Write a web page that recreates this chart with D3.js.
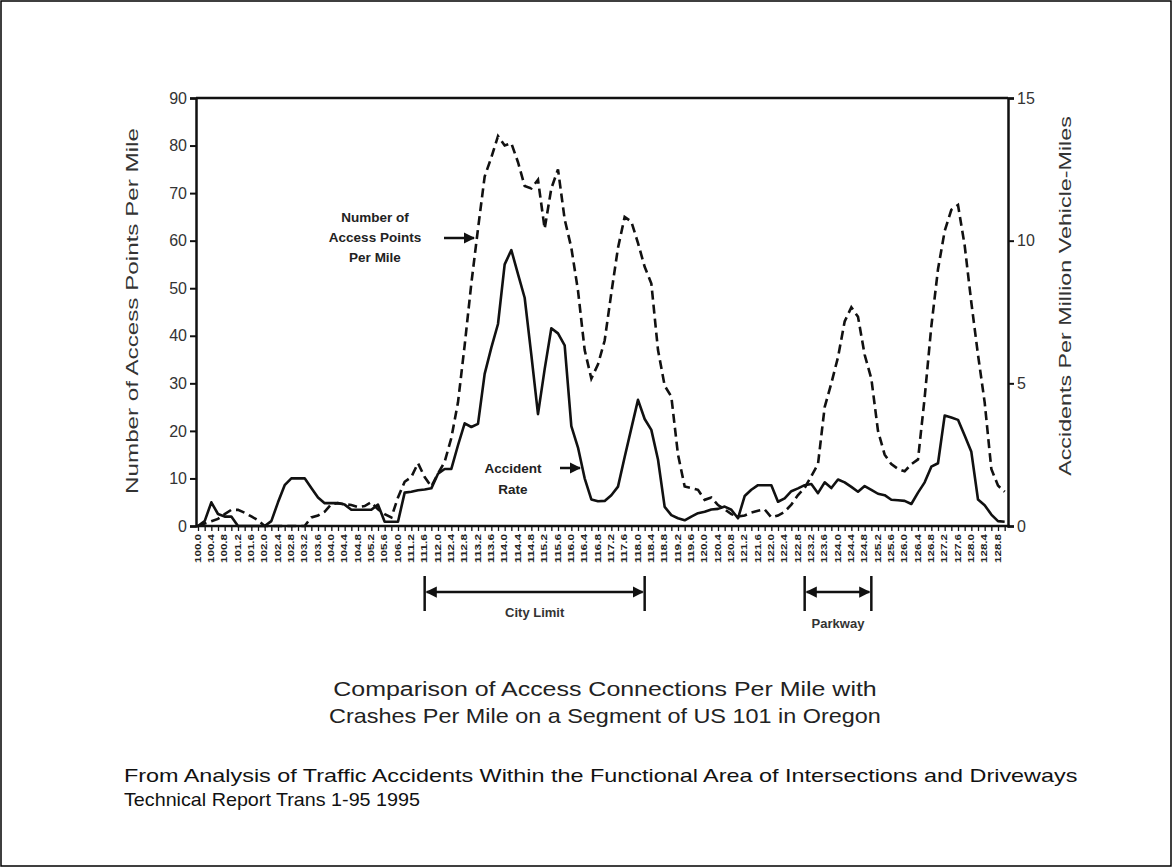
<!DOCTYPE html>
<html>
<head>
<meta charset="utf-8">
<script src="https://cdn.jsdelivr.net/npm/d3@7"></script>
<style>
  body { margin: 0; background: #fff; }
  svg { display: block; font-family: 'Liberation Sans', Arial, sans-serif; }
</style>
</head>
<body>
<div id="container"></div>
<script>
// mileposts along US 101, one every 0.2 mile (the axis skips 106.0 -> 111.2)
const mileposts = [
  '100.0','100.2','100.4','100.6','100.8','101.0','101.2','101.4','101.6','101.8',
  '102.0','102.2','102.4','102.6','102.8','103.0','103.2','103.4','103.6','103.8',
  '104.0','104.2','104.4','104.6','104.8','105.0','105.2','105.4','105.6','105.8',
  '106.0','111.0','111.2','111.4','111.6','111.8','112.0','112.2','112.4','112.6',
  '112.8','113.0','113.2','113.4','113.6','113.8','114.0','114.2','114.4','114.6',
  '114.8','115.0','115.2','115.4','115.6','115.8','116.0','116.2','116.4','116.6',
  '116.8','117.0','117.2','117.4','117.6','117.8','118.0','118.2','118.4','118.6',
  '118.8','119.0','119.2','119.4','119.6','119.8','120.0','120.2','120.4','120.6',
  '120.8','121.0','121.2','121.4','121.6','121.8','122.0','122.2','122.4','122.6',
  '122.8','123.0','123.2','123.4','123.6','123.8','124.0','124.2','124.4','124.6',
  '124.8','125.0','125.2','125.4','125.6','125.8','126.0','126.2','126.4','126.6',
  '126.8','127.0','127.2','127.4','127.6','127.8','128.0','128.2','128.4','128.6',
  '128.8','129.0'
];

// tick labels printed under the axis (every other milepost)
const tickLabels = [
  '100.0','100.4','100.8','101.2','101.6','102.0','102.4','102.8','103.2','103.6',
  '104.0','104.4','104.8','105.2','105.6','106.0','111.2','111.6','112.0','112.4',
  '112.8','113.2','113.6','114.0','114.4','114.8','115.2','115.6','116.0','116.4',
  '116.8','117.2','117.6','118.0','118.4','118.8','119.2','119.6','120.0','120.4',
  '120.8','121.2','121.6','122.0','122.4','122.8','123.2','123.6','124.0','124.4',
  '124.8','125.2','125.6','126.0','126.4','126.8','127.2','127.6','128.0','128.4',
  '128.8'
];

// number of access points per mile (left axis)
const accessPoints = [
  0, 0.5, 1, 1.5, 2.5, 3.4, 3.4, 2.8, 2, 1.2,
  0, 0, 0, 0, 0, 0, 0, 1.8, 2.2, 3,
  4.6, 4.8, 4.6, 4.4, 4, 4.2, 5, 3.5, 2.5, 1.8,
  6, 9.3, 10.3, 13.2, 10.3, 8.3, 11, 13.5, 18.5, 26,
  38, 51, 62.5, 73.5, 77.5, 82, 80, 80.5, 76.5, 71.5,
  71, 72.8, 62.5, 71, 75, 64.5, 58.5, 49.5, 37, 31,
  34, 39, 49, 58.5, 65, 64, 59.5, 54.5, 51, 37,
  29.5, 27.2, 15, 8.3, 8, 7.6, 5.5, 6, 4.4, 3.5,
  2.5, 2, 2.2, 2.8, 3.2, 3.5, 1.8, 2.2, 3, 4.5,
  6.5, 8, 10.5, 13, 25, 30, 35.5, 43, 46, 44,
  36, 31, 20, 15, 13, 12, 11.5, 13, 14, 27,
  42, 54, 62, 66.5, 67.5, 59, 47, 36, 26, 12,
  8.5, 7.2
];

// accidents per million vehicle-miles (right axis)
const accidentRate = [
  0, 0.17, 0.83, 0.42, 0.33, 0.33, 0, 0, 0, 0,
  0, 0.17, 0.83, 1.43, 1.67, 1.67, 1.67, 1.33, 1, 0.8,
  0.8, 0.8, 0.75, 0.57, 0.57, 0.57, 0.57, 0.75, 0.15, 0.15,
  0.15, 1.17, 1.2, 1.25, 1.28, 1.32, 1.83, 2, 2, 2.83,
  3.6, 3.47, 3.58, 5.33, 6.25, 7.08, 9.17, 9.67, 8.83, 8,
  6, 3.92, 5.5, 6.93, 6.75, 6.33, 3.5, 2.75, 1.67, 0.93,
  0.87, 0.88, 1.08, 1.38, 2.42, 3.42, 4.42, 3.75, 3.37, 2.33,
  0.67, 0.38, 0.27, 0.2, 0.33, 0.45, 0.5, 0.58, 0.6, 0.68,
  0.57, 0.27, 1.05, 1.27, 1.43, 1.43, 1.43, 0.85, 0.97, 1.22,
  1.32, 1.43, 1.47, 1.15, 1.53, 1.33, 1.63, 1.53, 1.37, 1.2,
  1.4, 1.27, 1.13, 1.08, 0.92, 0.9, 0.88, 0.77, 1.17, 1.53,
  2.08, 2.2, 3.87, 3.8, 3.72, 3.17, 2.6, 0.93, 0.73, 0.4,
  0.17, 0.15
];

const leftTicks = [0, 10, 20, 30, 40, 50, 60, 70, 80, 90];
const rightTicks = [0, 5, 10, 15];

const width = 1172, height = 867;
const plot = { left: 196, right: 1008, top: 98, bottom: 526 };

const svg = d3.select('#container').append('svg')
  .attr('width', width)
  .attr('height', height);

svg.append('rect')
  .attr('x', 1).attr('y', 1)
  .attr('width', width - 2).attr('height', height - 2)
  .attr('fill', '#fff')
  .attr('stroke', '#000')
  .attr('stroke-width', 1.5);

// squeeze or stretch a text horizontally so it spans `target` pixels
function fitText(t, px, py, target, rotate) {
  t.attr('x', 0).attr('y', 0);
  const w = t.node().getComputedTextLength();
  const s = target / w;
  t.attr('transform', `translate(${px},${py})` + (rotate ? ` rotate(${rotate})` : '') + ` scale(${s},1)`);
}

const x = d3.scaleLinear()
  .domain([-0.3, mileposts.length - 0.5])
  .range([plot.left, plot.right]);
const yLeft = d3.scaleLinear().domain([0, 90]).range([plot.bottom, plot.top]);
const yRight = d3.scaleLinear().domain([0, 15]).range([plot.bottom, plot.top]);

// lines
const accessLine = d3.line()
  .x((d, i) => x(i))
  .y((d) => yLeft(d));
const rateLine = d3.line()
  .x((d, i) => x(i))
  .y((d) => yRight(d));

svg.append('path')
  .datum(accessPoints)
  .attr('d', accessLine)
  .attr('fill', 'none')
  .attr('stroke', '#111')
  .attr('stroke-width', 2.6)
  .attr('stroke-dasharray', '9,5');

svg.append('path')
  .datum(accidentRate)
  .attr('d', rateLine)
  .attr('fill', 'none')
  .attr('stroke', '#111')
  .attr('stroke-width', 2.6)
  .attr('stroke-linejoin', 'round');

// frame: top line and both axes
svg.append('line')
  .attr('x1', plot.left).attr('x2', plot.right)
  .attr('y1', plot.top).attr('y2', plot.top)
  .attr('stroke', '#111').attr('stroke-width', 2.5);

const axisLeft = svg.append('g')
  .attr('transform', `translate(${plot.left},0)`)
  .call(d3.axisLeft(yLeft).tickValues(leftTicks).tickSize(6).tickPadding(3));
const axisRight = svg.append('g')
  .attr('transform', `translate(${plot.right},0)`)
  .call(d3.axisRight(yRight).tickValues(rightTicks).tickSize(6).tickPadding(3));

[axisLeft, axisRight].forEach((g) => {
  g.select('.domain').attr('stroke', '#111').attr('stroke-width', 2.5);
  g.selectAll('.tick line').attr('stroke', '#111').attr('stroke-width', 2);
  g.selectAll('.tick text')
    .attr('fill', '#333')
    .style('font-size', '16px')
    .style('font-family', "'Liberation Sans', Arial, sans-serif");
});

// bottom axis: a tick every milepost, label every other one
const axisBottom = svg.append('g')
  .attr('transform', `translate(0,${plot.bottom})`)
  .call(d3.axisBottom(x)
    .tickValues(d3.range(mileposts.length))
    .tickSize(5)
    .tickFormat(''));
axisBottom.select('.domain').remove();
axisBottom.selectAll('.tick line').attr('stroke', '#111').attr('stroke-width', 1.3);
svg.append('line')
  .attr('x1', plot.left).attr('x2', plot.right + 2)
  .attr('y1', plot.bottom).attr('y2', plot.bottom)
  .attr('stroke', '#111').attr('stroke-width', 2.5);

svg.append('g')
  .selectAll('text')
  .data(tickLabels)
  .join('text')
  .attr('text-anchor', 'end')
  .attr('font-size', 8.5)
  .attr('font-weight', 'bold')
  .attr('fill', '#222')
  .text((d) => d)
  .each(function (d) {
    fitText(d3.select(this), x(mileposts.indexOf(d)) + 2.5, plot.bottom + 8, 29, -90);
  });

// axis titles
fitText(svg.append('text')
  .attr('text-anchor', 'middle')
  .attr('font-size', 16)
  .attr('fill', '#333')
  .text('Number of Access Points Per Mile'), 138, 311, 366, -90);

fitText(svg.append('text')
  .attr('text-anchor', 'middle')
  .attr('font-size', 16)
  .attr('fill', '#333')
  .text('Accidents Per Million Vehicle-Miles'), 1071, 296, 360, -90);

// series annotations
const note = svg.append('g')
  .attr('font-size', 13.5)
  .attr('font-weight', 'bold')
  .attr('fill', '#222')
  .attr('text-anchor', 'middle');

[['Number of', 222], ['Access Points', 242], ['Per Mile', 262]].forEach(([t, yy]) => {
  note.append('text').attr('x', 375).attr('y', yy).text(t);
});
[['Accident', 473], ['Rate', 494]].forEach(([t, yy]) => {
  note.append('text').attr('x', 513).attr('y', yy).text(t);
});

svg.append('defs').append('marker')
  .attr('id', 'head')
  .attr('viewBox', '0 0 10 10')
  .attr('refX', 9).attr('refY', 5)
  .attr('markerWidth', 4.5).attr('markerHeight', 4.5)
  .attr('markerUnits', 'strokeWidth')
  .attr('orient', 'auto-start-reverse')
  .append('path')
  .attr('d', 'M0,0 L10,5 L0,10 z')
  .attr('fill', '#111');

function arrow(x1, y1, x2, y2, both) {
  const l = svg.append('line')
    .attr('x1', x1).attr('y1', y1).attr('x2', x2).attr('y2', y2)
    .attr('stroke', '#111').attr('stroke-width', 2.5)
    .attr('marker-end', 'url(#head)');
  if (both) l.attr('marker-start', 'url(#head)');
}
arrow(444, 238, 474, 238);
arrow(560, 468, 580, 468);

// city limit and parkway brackets, placed by milepost
const spans = [
  { label: 'City Limit', from: '111.6', to: '118.2', labelY: 617 },
  { label: 'Parkway', from: '123.0', to: '125.0', labelY: 628 }
];
spans.forEach((s) => {
  const x1 = x(mileposts.indexOf(s.from));
  const x2 = x(mileposts.indexOf(s.to));
  [x1, x2].forEach((xx) => {
    svg.append('line')
      .attr('x1', xx).attr('x2', xx).attr('y1', 576).attr('y2', 611)
      .attr('stroke', '#111').attr('stroke-width', 2.5);
  });
  arrow(x1 + 2, 592, x2 - 2, 592, true);
  svg.append('text')
    .attr('x', (x1 + x2) / 2).attr('y', s.labelY)
    .attr('text-anchor', 'middle')
    .attr('font-size', 13)
    .attr('font-weight', 'bold')
    .attr('fill', '#333')
    .text(s.label);
});

// caption
const caption = [
  ['Comparison of Access Connections Per Mile with', 696, 544],
  ['Crashes Per Mile on a Segment of US 101 in Oregon', 723, 552]
];
caption.forEach(([t, yy, len]) => {
  fitText(svg.append('text')
    .attr('text-anchor', 'middle')
    .attr('font-size', 21)
    .attr('fill', '#222')
    .text(t), 605, yy, len);
});

const source = [
  ['From Analysis of Traffic Accidents Within the Functional Area of Intersections and Driveways', 782, 954],
  ['Technical Report Trans 1-95 1995', 806, 296]
];
source.forEach(([t, yy, len]) => {
  fitText(svg.append('text')
    .attr('font-size', 19)
    .attr('fill', '#111')
    .text(t), 124, yy, len);
});
</script>
</body>
</html>
